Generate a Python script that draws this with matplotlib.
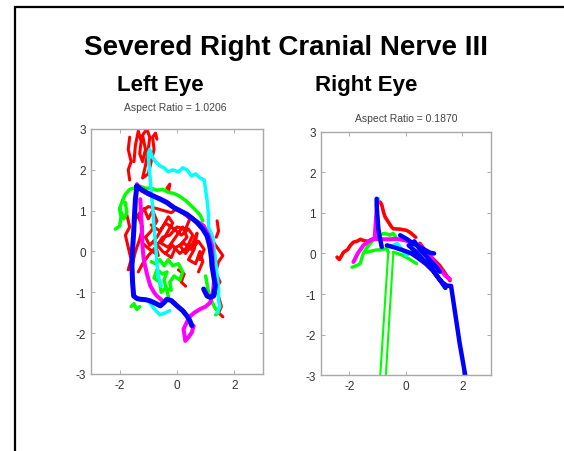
import numpy as np
import matplotlib
matplotlib.use('Agg')
import matplotlib.pyplot as plt
from matplotlib.patches import Rectangle

plt.rcParams['font.family'] = ['Liberation Sans', 'DejaVu Sans']
plt.rcParams['axes.unicode_minus'] = False

n = np.nan

# ---- Left eye traces (x, y), nan = pen up ----
left_red_x = [-1.65, -1.7, -1.6, -1.7, -1.65, n,
              -1.5, -1.45, -1.35, -1.25, -1.3, -1.2, -1.1, -1.2, -1.05, -0.95, -1.0, -1.1, -1.2, -1.0, -0.9, -0.8, -0.85, -0.75, -0.7, n,
              -0.35, -0.25, -0.3, n,
              -1.75, -1.65, -1.8, -1.7, -1.6, -1.7, -1.55, -1.45, -1.3, -1.2, -1.35, -1.15, -1.0, -0.85, -0.7, -0.9, -1.1, -0.95, -0.7,
              -0.5, -0.3, -0.15, -0.35, -0.55, -0.3, -0.05, 0.2, 0.35, 0.1, 0.3, 0.55, 0.7, 0.6, 0.4, 0.65, 0.8, 0.9, 0.75, n,
              -1.5, -1.3, -1.0, -0.7, -0.45, -0.2, 0.0, 0.2, 0.45, 0.3, 0.0, -0.25, -0.5, -0.75, -1.0, -1.2, -1.35, n,
              -0.9, -0.6, -0.4, -0.1, 0.15, 0.4, 0.55, 0.35, 0.1, -0.15, -0.4, n,
              -1.2, -0.95, -0.65, -0.8, -0.5, -0.2, -0.05, 0.25, 0.5, 0.75, 0.95, 0.8, n,
              1.4, 1.45, 1.37, n,
              1.15, 1.3, 1.45, 1.6, 1.45, 1.35, 1.5, 1.35, 1.45, 1.55, 1.45, 1.6, n,
              0.05, 0.25, 0.15, 0.3]
left_red_y = [2.8, 2.5, 2.2, 2.0, 1.75, n,
              2.2, 2.6, 2.95, 2.7, 2.4, 2.2, 2.5, 2.85, 3.0, 2.8, 2.5, 2.1, 1.8, 1.9, 2.2, 2.5, 2.8, 2.9, 2.75, n,
              1.55, 1.65, 1.45, n,
              0.9, 0.6, 0.4, 0.1, -0.2, -0.45, -0.3, 0.0, 0.3, 0.6, 0.85, 1.05, 0.8, 1.0, 0.75, 0.5, 0.35, 0.15, 0.35,
              0.6, 0.85, 0.7, 0.45, 0.2, 0.1, 0.35, 0.6, 0.35, 0.15, -0.05, 0.2, 0.45, 0.05, -0.2, -0.3, 0.0, -0.25, -0.5, n,
              0.75, 0.95, 1.1, 1.05, 1.0, 0.95, 1.05, 0.95, 0.8, 0.55, 0.6, 0.4, 0.35, 0.1, -0.1, -0.3, -0.5, n,
              0.65, 0.5, 0.7, 0.55, 0.4, 0.55, 0.4, 0.1, -0.05, 0.15, -0.05, n,
              0.2, 0.05, -0.1, 0.25, 0.0, -0.15, 0.1, 0.2, 0.05, 0.25, 0.05, -0.2, n,
              0.75, 0.5, 0.35, n,
              0.45, 0.2, 0.05, -0.1, -0.25, -0.5, -0.75, -0.9, -1.1, -1.35, -1.5, -1.6, n,
              -0.45, -0.55, -0.75, -0.85]

left_green_x = [-2.15, -2.0, -1.95, -2.0, -1.9, -1.8, -1.65, -1.5, -1.3, -1.1, -0.9, -0.7, -0.5, -0.3, -0.1, 0.1, 0.3, 0.45, 0.6, 0.8, 0.9, n,
                -2.0, -1.85, -1.75, -1.8, n,
                -0.9, -0.75, -0.6, -0.45, -0.3, -0.15, 0.05, 0.2, 0.1, -0.1, -0.25, -0.2, -0.4, -0.55, -0.6, -0.8, -0.7, -0.5, -0.35, -0.45, -0.3, n,
                -1.6, -1.5, -1.4, -1.3, n,
                1.0, 1.05, 1.1, 1.2, 1.3, 1.45, 1.35]
left_green_y = [0.55, 0.62, 0.85, 1.05, 1.25, 1.4, 1.52, 1.55, 1.6, 1.55, 1.55, 1.5, 1.52, 1.45, 1.42, 1.35, 1.25, 1.15, 1.05, 0.9, 0.75, n,
                1.05, 0.8, 0.95, 1.2, n,
                -0.25, -0.3, -0.2, -0.35, -0.2, -0.35, -0.3, -0.5, -0.7, -0.6, -0.75, -0.95, -0.9, -1.0, -0.75, -0.65, -0.45, -0.55, -0.5, -0.7, -1.1, n,
                -1.35, -1.28, -1.42, -1.35, n,
                -0.6, -0.8, -1.0, -1.2, -1.35, -1.5, -1.55]

left_cyan_x = [-1.0, -0.95, -0.85, -0.75, -0.6, -0.45, -0.3, -0.15, 0.05, 0.2, 0.35, 0.5, 0.65, 0.8, 0.95, 1.0, 1.05, 1.1, 1.1, 1.25, 1.3, 1.35, 1.4, 1.45, 1.45, 1.5, 1.4, n,
               -1.0, -0.95, -0.9, -0.85, -0.8, -0.75, -0.7, -0.65, -0.55, n,
               -0.95, -0.8, -0.6, -0.4, -0.25]
left_cyan_y = [2.4, 2.5, 2.3, 2.2, 2.1, 2.05, 1.95, 2.0, 1.95, 2.05, 2.0, 1.85, 1.9, 1.8, 1.75, 1.5, 1.25, 0.9, 0.6, 0.35, 0.05, -0.25, -0.6, -0.9, -1.2, -1.35, -1.5, n,
               2.35, 1.9, 1.5, 1.1, 0.6, 0.2, -0.3, -0.6, -0.85, n,
               -1.25, -1.4, -1.55, -1.5, -1.45]

left_magenta_x = [-1.4, -1.25, -1.0, -0.6, -0.2, 0.2, 0.55, 0.93, 1.1, 1.22, 1.25, 1.3, 1.25, 1.16, 1.0, 0.81, 0.6, 0.47, 0.35, 0.23, 0.29, 0.4, 0.52, 0.58, n,
                  -1.28, -1.25, -1.22, -1.2, -1.16, -1.05, -0.93, -0.8, -0.7, -0.55, -0.47]
left_magenta_y = [1.65, 1.5, 1.4, 1.3, 1.12, 0.95, 0.8, 0.63, 0.4, 0.14, -0.3, -0.7, -1.0, -1.25, -1.35, -1.41, -1.5, -1.58, -1.72, -1.9, -2.19, -2.1, -1.98, -1.82, n,
                  1.28, 0.9, 0.47, 0.1, -0.19, -0.55, -0.84, -1.0, -1.09, -1.18, -1.25]

left_blue_x = [-1.4, -1.2, -1.05, -0.8, -0.58, -0.35, -0.12, 0.1, 0.35, 0.55, 0.7, 0.9, 1.05, 1.12, 1.16, 1.2, 1.22, 1.28, 1.34, 1.28, 1.15, 1.05, 0.93, n,
               -1.4, -1.45, -1.48, -1.51, -1.55, -1.57, -1.55, -1.51, -1.4, -1.28, -1.1, -0.93, -0.75, -0.58, -0.45, -0.35, -0.2, 0.0, 0.2, 0.35, 0.45, 0.52]
left_blue_y = [1.6, 1.5, 1.44, 1.35, 1.28, 1.2, 1.08, 1.0, 0.91, 0.8, 0.71, 0.55, 0.38, 0.2, 0.06, -0.15, -0.35, -0.6, -0.84, -1.09, -1.12, -1.09, -0.92, n,
               1.6, 1.28, 0.9, 0.47, 0.05, -0.35, -0.75, -1.09, -1.15, -1.17, -1.18, -1.21, -1.27, -1.33, -1.25, -1.17, -1.2, -1.33, -1.45, -1.58, -1.7, -1.82]

# ---- Right eye traces (x, y) ----
right_red_x = [-2.43, -2.35, -2.2, -2.05, -1.96, -1.85, -1.73, -1.6, -1.5, -1.35, -1.2, n,
               -0.91, -0.85, -0.78, -0.73, -0.62, -0.5, -0.44, -0.2, 0.03, 0.15, 0.27, 0.35, n,
               0.5, 0.73, 0.95, 1.2, 1.4, 1.56]
right_red_y = [-0.09, -0.15, 0.03, 0.1, 0.2, 0.28, 0.3, 0.35, 0.32, 0.3, 0.35, n,
               1.27, 1.2, 1.0, 0.9, 0.78, 0.65, 0.61, 0.6, 0.57, 0.52, 0.45, 0.4, n,
               0.25, 0.03, -0.12, -0.3, -0.5, -0.67]

right_green_x = [-1.9, -1.75, -1.61, -1.55, -1.5, -1.4, -1.26, -1.15, -1.08, -0.95, -0.79, -0.65, -0.56, -0.45, -0.35, n,
                 -1.38, -1.1, -0.85, -0.67, -0.62, n,
                 -0.44, -0.3, -0.09, 0.15, 0.38]
right_green_y = [-0.34, -0.3, -0.25, -0.1, 0.0, 0.12, 0.24, 0.33, 0.4, 0.45, 0.49, 0.48, 0.45, 0.5, 0.4, n,
                 0.03, 0.08, 0.1, 0.12, 0.03, n,
                 0.03, 0.0, -0.05, -0.15, -0.25]

# fast downward excursion of the green trace (drawn thinner)
right_green_drop_x = [-0.62, -0.93, -0.73, -0.44]
right_green_drop_y = [0.03, -3.3, -3.3, 0.03]

right_cyan_x = [-0.44, -0.3, -0.15, 0.03, 0.2, n, -1.0, -0.97]
right_cyan_y = [0.2, 0.25, 0.1, -0.05, 0.05, n, 1.25, 1.35]

right_magenta_x = [-1.85, -1.7, -1.5, -1.3, -1.14, -0.9, -0.6, -0.32, 0.0, 0.25, 0.5, 0.7, 0.85, 1.05, 1.25, 1.4, 1.56, n,
                   -1.1, -1.05, -1.0]
right_magenta_y = [-0.21, 0.0, 0.2, 0.3, 0.36, 0.35, 0.35, 0.36, 0.32, 0.25, 0.2, 0.05, -0.05, -0.25, -0.42, -0.55, -0.63, n,
                   0.4, 0.9, 1.3]

right_blue_x = [-1.03, -1.03, -1.0, -0.97, -0.92, -0.85, n,
                -0.67, -0.4, -0.1, 0.2, 0.45, 0.7, 0.95, 1.15, 1.3, 1.44, 1.55, 1.6, 1.75, 1.9, 2.1, n,
                -0.2, 0.05, 0.25, 0.45, 0.65, 0.85, 1.0, n,
                0.1, 0.35, 0.6, 0.85, 1.05, 1.25, 1.4, n,
                0.3, 0.5, 0.7, 0.9, 1.1, 1.2]
right_blue_y = [1.35, 1.19, 0.9, 0.61, 0.4, 0.16, n,
                0.2, 0.15, 0.08, 0.0, -0.12, -0.25, -0.42, -0.6, -0.72, -0.79, -0.8, -0.8, -1.5, -2.2, -3.0, n,
                0.45, 0.35, 0.25, 0.18, 0.1, 0.02, 0.0, n,
                0.2, 0.05, -0.15, -0.3, -0.5, -0.7, -0.85, n,
                0.3, 0.1, -0.05, -0.2, -0.35, -0.45]

panels = [
    dict(rect=[0.1613, 0.1704, 0.305, 0.542], name='Left Eye', name_x=0.284,
         ratio='Aspect Ratio = 1.0206', ratio_xy=(0.310, 0.761),
         traces=[(left_red_x, left_red_y, '#ff0000', 2.2),
                 (left_green_x, left_green_y, '#00ff00', 2.5),
                 (left_cyan_x, left_cyan_y, '#00ffff', 2.5),
                 (left_magenta_x, left_magenta_y, '#ff00ff', 2.9),
                 (left_blue_x, left_blue_y, '#0000ff', 3.6)]),
    dict(rect=[0.569, 0.168, 0.301, 0.538], name='Right Eye', name_x=0.649,
         ratio='Aspect Ratio = 0.1870', ratio_xy=(0.72, 0.737),
         traces=[(right_red_x, right_red_y, '#ff0000', 2.6),
                 (right_green_x, right_green_y, '#00ff00', 2.4),
                 (right_green_drop_x, right_green_drop_y, '#00ff00', 1.5),
                 (right_cyan_x, right_cyan_y, '#00ffff', 2.5),
                 (right_magenta_x, right_magenta_y, '#ff00ff', 2.9),
                 (right_blue_x, right_blue_y, '#0000ff', 3.2)]),
]

fig = plt.figure(figsize=(5.64, 4.52), dpi=100)

# outer frame
fig.patches.append(Rectangle((14.5 / 564, -0.1), 1.2, 1.1 - 8 / 452, transform=fig.transFigure,
                             fill=False, edgecolor='black', linewidth=1.6))

fig.text(0.507, 0.894, 'Severed Right Cranial Nerve III', ha='center', va='center',
         fontsize=20, fontweight='bold')

for p in panels:
    ax = fig.add_axes(p['rect'])
    for x, y, c, lw in p['traces']:
        ax.plot(x, y, color=c, lw=lw, solid_capstyle='round', solid_joinstyle='round')
    ax.set_xlim(-3, 3)
    ax.set_ylim(-3, 3)
    ax.set_xticks([-2, 0, 2])
    ax.set_yticks([-3, -2, -1, 0, 1, 2, 3])
    ax.tick_params(direction='in', length=3, width=0.6, top=True, right=True,
                   colors='#a0a0a0', labelcolor='#333333', labelsize=8.5)
    for s in ax.spines.values():
        s.set_color('#a8a8a8')
        s.set_linewidth(1.0)
    fig.text(p['ratio_xy'][0], p['ratio_xy'][1], p['ratio'], ha='center', va='center',
             fontsize=7.5, color='#444444')
    fig.text(p['name_x'], 0.81, p['name'], ha='center', va='center', fontsize=16, fontweight='bold')

fig.savefig('out.png', dpi=100)
